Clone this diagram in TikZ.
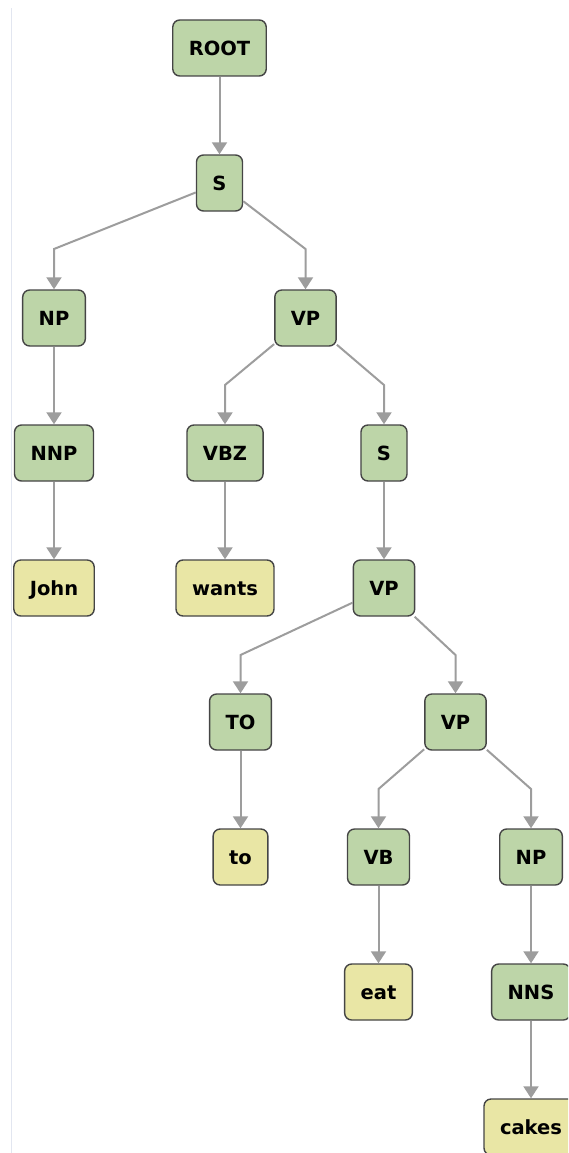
\documentclass[tikz,border=0pt]{standalone}
\usepackage{fontspec}
\setmainfont{DejaVu Sans}
\usetikzlibrary{arrows.meta}

\definecolor{phrasefill}{HTML}{BDD5A8}
\definecolor{wordfill}{HTML}{E9E6A5}
\definecolor{edgegray}{HTML}{9D9D9D}
\definecolor{boxline}{HTML}{454545}
\definecolor{margin}{HTML}{E2E6F0}

\tikzset{
  tag/.style={draw=boxline, line width=1.4pt, rounded corners=7pt,
    fill=phrasefill, minimum height=56pt, inner xsep=16pt,
    font=\bfseries\fontsize{19.5}{22}\selectfont,
    text height=14.2pt, text depth=0pt},
  leaf/.style={tag, fill=wordfill},
  link/.style={draw=edgegray, line width=2pt,
    -{Triangle[width=15pt,length=12pt]}},
}

\begin{document}
\begin{tikzpicture}[x=1pt, y=-1pt]
  \path[use as bounding box, clip] (0,0) rectangle (568,1153);

  % thin page margin rule on the left
  \draw[margin, line width=1pt] (11.5,8) -- (11.5,1153);

  % parse tree nodes
  \node[tag]  (ROOT)  at (219.5,48)  {ROOT};
  \node[tag]  (S1)    at (219.5,183) {S};
  \node[tag]  (NP1)   at (54,318)    {NP};
  \node[tag]  (VP1)   at (305.5,318) {VP};
  \node[tag]  (NNP)   at (54,453)    {NNP};
  \node[tag]  (VBZ)   at (225,453)   {VBZ};
  \node[tag]  (S2)    at (384,453)   {S};
  \node[leaf] (John)  at (54,588)    {John};
  \node[leaf] (wants) at (225,588)   {wants};
  \node[tag]  (VP2)   at (384,588)   {VP};
  \node[tag]  (TO)    at (240.5,722) {TO};
  \node[tag]  (VP3)   at (455.5,722) {VP};
  \node[leaf] (to)    at (240.5,857) {to};
  \node[tag]  (VB)    at (378.5,857) {VB};
  \node[tag]  (NP2)   at (531,857)   {NP};
  \node[leaf] (eat)   at (378.5,992) {eat};
  \node[tag]  (NNS)   at (531,992)   {NNS};
  \node[leaf] (cakes) at (531,1127)  {cakes};

  % branching levels below each parent with two children
  \coordinate (S1b)  at ([yshift=-66pt]S1.center);
  \coordinate (VP1b) at ([yshift=-67pt]VP1.center);
  \coordinate (VP2b) at ([yshift=-67pt]VP2.center);
  \coordinate (VP3b) at ([yshift=-67pt]VP3.center);

  % connectors
  \draw[link] (ROOT) -- (S1);
  \draw[link] (S1) -- (S1b -| NP1) -- (NP1);
  \draw[link] (S1) -- (S1b -| VP1) -- (VP1);
  \draw[link] (NP1) -- (NNP);
  \draw[link] (NNP) -- (John);
  \draw[link] (VP1) -- (VP1b -| VBZ) -- (VBZ);
  \draw[link] (VP1) -- (VP1b -| S2) -- (S2);
  \draw[link] (VBZ) -- (wants);
  \draw[link] (S2) -- (VP2);
  \draw[link] (VP2) -- (VP2b -| TO) -- (TO);
  \draw[link] (VP2) -- (VP2b -| VP3) -- (VP3);
  \draw[link] (TO) -- (to);
  \draw[link] (VP3) -- (VP3b -| VB) -- (VB);
  \draw[link] (VP3) -- (VP3b -| NP2) -- (NP2);
  \draw[link] (VB) -- (eat);
  \draw[link] (NP2) -- (NNS);
  \draw[link] (NNS) -- (cakes);
\end{tikzpicture}
\end{document}
